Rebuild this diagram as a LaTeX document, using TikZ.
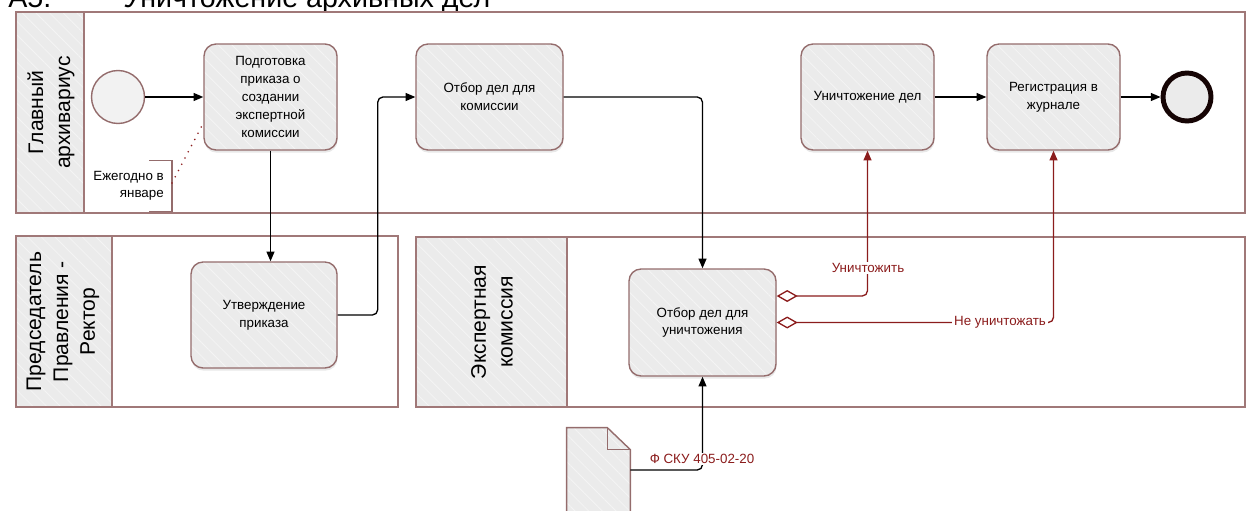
\documentclass[tikz,border=0pt]{standalone}
\usepackage{fontspec}
\setmainfont{Liberation Sans}
\usetikzlibrary{arrows.meta,patterns.meta,shadows,calc}
\definecolor{bordc}{HTML}{A07878}
\definecolor{taskb}{HTML}{946C6C}
\definecolor{hatchbg}{HTML}{EBEBEB}
\definecolor{hatchln}{HTML}{F4F4F4}
\definecolor{dred}{HTML}{8B1C1C}
\tikzset{
  hatch/.style={preaction={fill=hatchbg}, pattern={Lines[angle=-45,distance=5.5pt,line width=0.45pt]}, pattern color=hatchln},
  pool/.style={draw=bordc, line width=0.9pt},
  hdr/.style={draw=bordc, line width=0.9pt, hatch},
  hdrtext/.style={rotate=90, align=center, font=\fontsize{12}{15.3}\selectfont},
  task/.style={draw=taskb, line width=0.8pt, rounded corners=0.24cm, align=center,
    drop shadow={opacity=0.18,shadow xshift=0.3pt,shadow yshift=-1.5pt},
    hatch, minimum height=2.12cm, font=\fontsize{7.6}{10.2}\selectfont},
  flow/.style={black, line width=0.75pt, rounded corners=3pt, -{Triangle[length=5.5pt,width=4.5pt]}},
  cflow/.style={dred, line width=0.75pt, rounded corners=3pt, {Diamond[open,length=0.42cm,width=0.24cm]}-{Triangle[length=5.5pt,width=4.5pt]}},
  lbl/.style={fill=white, text=dred, inner sep=1pt, font=\fontsize{7.6}{9}\selectfont},
}
\begin{document}
\begin{tikzpicture}[x=0.02cm,y=-0.02cm]
\useasboundingbox (0,0) rectangle (1256,510);
% title (partly cut at the top, as in the reference)
\node[anchor=base west, inner sep=0, font=\fontsize{16.3}{18}\selectfont] (ttl1) at (8,8) {А5.};
\node[anchor=base west, inner sep=0, font=\fontsize{16.3}{18}\selectfont] (ttl2) at (123,8) {Уничтожение архивных дел};
% pools
\path[pool] (16,12) rectangle (1245,213);
\path[hdr] (16,12) rectangle (84,213);
\node[hdrtext] (h1) at (51,112.5) {Главный\\архивариус};
\path[pool] (16,236) rectangle (398,407);
\path[hdr] (16,236) rectangle (112,407);
\node[hdrtext] (h2) at (63,321.5) {Председатель\\Правления -\\Ректор};
\path[pool] (416,237) rectangle (1245,407);
\path[hdr] (416,237) rectangle (567,407);
\node[hdrtext] (h3) at (492,322) {Экспертная\\комиссия};
% events
\node[circle, draw=taskb, line width=0.8pt, fill=black!5, minimum size=1.06cm, inner sep=0] (start) at (118,97) {};
\node[circle, draw=black!85!dred, line width=2.8pt, fill=hatchbg, minimum size=0.96cm, inner sep=0,
  drop shadow={opacity=0.18,shadow xshift=0.3pt,shadow yshift=-1.5pt}] (end) at (1187,97) {};
% tasks
\node[task, minimum width=2.66cm] (T1) at (270.5,97) {Подготовка\\приказа о\\создании\\экспертной\\комиссии};
\node[task, minimum width=2.94cm] (O1) at (489.5,97) {Отбор дел для\\комиссии};
\node[task, minimum width=2.66cm] (Un) at (867.5,97) {Уничтожение дел};
\node[task, minimum width=2.66cm] (Rg) at (1053.5,97) {Регистрация в\\журнале};
\node[task, minimum width=2.92cm] (U) at (264,315) {Утверждение\\приказа};
\node[task, minimum width=2.94cm, minimum height=2.14cm] (O2) at (702.5,322.5) {Отбор дел для\\уничтожения};
% annotation
\node[anchor=east, align=right, inner xsep=4.5pt, minimum height=1cm, font=\fontsize{7.6}{9.6}\selectfont] (ann) at (172,186) {Ежегодно в\\январе};
\draw[taskb, line width=0.7pt] ($(ann.north east)+(-23,0)$) -- (ann.north east) -- (ann.south east) -- ++(-23,0);
\draw[dred, line width=1pt, line cap=round, dash pattern=on 0pt off 4pt] ([yshift=0.06cm]ann.east) -- ([yshift=-0.52cm]T1.west);
% document
\node[minimum width=1.26cm, minimum height=1.84cm, inner sep=0] (doc) at (598.5,474) {};
\draw[taskb, line width=0.8pt, hatch] (doc.north west) -- ($(doc.north east)+(-23,0)$) -- ($(doc.north east)+(0,22)$) -- (doc.south east) -- (doc.south west) -- cycle;
\draw[taskb, line width=0.8pt] ($(doc.north east)+(-23,0)$) -- ($(doc.north east)+(-23,22)$) -- ($(doc.north east)+(0,22)$);
% flows
\draw[flow] (start) -- (T1);
\draw[flow] (T1.south) -- (T1.south |- U.north);
\draw[flow] (U.east) -- ++(40,0) |- (O1.west);
\draw[flow] (O1.east) -| (O2.north);
\draw[flow] (Un) -- (Rg);
\draw[flow] (Rg) -- (end);
\draw[flow] ([yshift=0.08cm]doc.east) -| (O2.south);
\node[lbl] (lf) at (702,459) {Ф СКУ 405-02-20};
% conditional flows
\draw[cflow] ([yshift=0.53cm]O2.east) -| (Un.south);
\draw[cflow] (O2.east) -| (Rg.south);
\node[lbl] (l1) at (868,268) {Уничтожить};
\node[lbl] (l2) at (1000,322.5) {Не уничтожать};
\end{tikzpicture}
\end{document}
